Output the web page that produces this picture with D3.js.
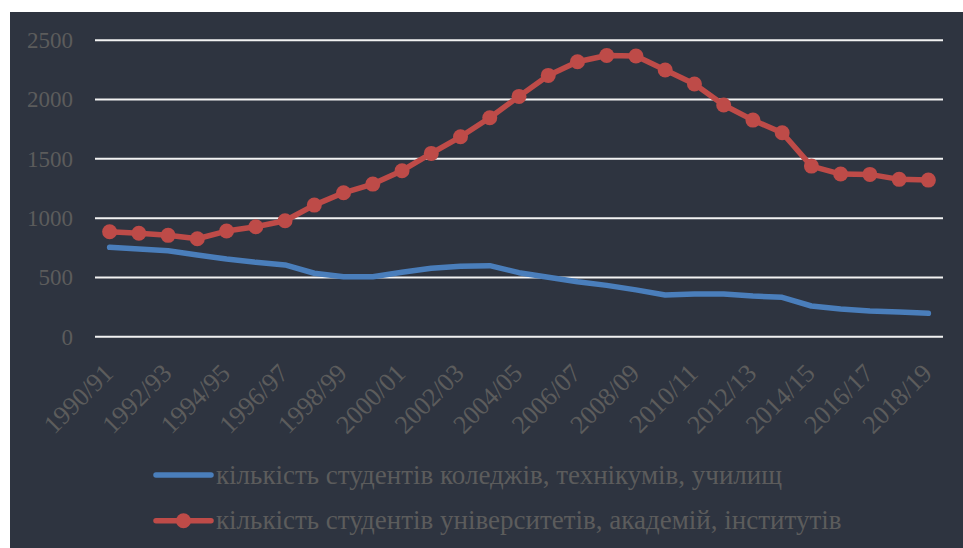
<!DOCTYPE html>
<html>
<head>
<meta charset="utf-8">
<script src="https://cdn.jsdelivr.net/npm/d3@7"></script>
<style>
  html, body { margin: 0; padding: 0; background: #fff; }
  svg { display: block; }
</style>
</head>
<body>
<svg id="chart" width="963" height="548"></svg>
<script>
const years = [
  '1990/91', '1991/92', '1992/93', '1993/94', '1994/95', '1995/96', '1996/97',
  '1997/98', '1998/99', '1999/00', '2000/01', '2001/02', '2002/03', '2003/04',
  '2004/05', '2005/06', '2006/07', '2007/08', '2008/09', '2009/10', '2010/11',
  '2011/12', '2012/13', '2013/14', '2014/15', '2015/16', '2016/17', '2017/18',
  '2018/19'
];
// коледжі, технікуми, училища
const colleges = [
  754, 740, 725, 689, 655, 627, 605, 535, 506, 506, 543, 577, 594, 599,
  540, 501, 464, 433, 395, 352, 360, 360, 343, 332, 259, 234, 217, 208, 197
];
// університети, академії, інститути
const universities = [
  885, 872, 855, 826, 891, 927, 978, 1110, 1214, 1287, 1400, 1546, 1686, 1847,
  2027, 2204, 2319, 2372, 2367, 2249, 2131, 1954, 1827, 1720, 1439, 1372, 1369,
  1327, 1321
];
const yTicks = [0, 500, 1000, 1500, 2000, 2500];
const seriesNames = [
  'кількість студентів коледжів, технікумів, училищ',
  'кількість студентів університетів, академій, інститутів'
];

const bg = '#2e3440';
const textColor = '#5c5c5c';
const blue = '#4a7ebb';
const red = '#be4b48';
const font = '"Liberation Serif", "Times New Roman", serif';

const svg = d3.select('#chart');

svg.append('rect')
  .attr('x', 10)
  .attr('y', 12)
  .attr('width', 953)
  .attr('height', 536)
  .attr('fill', bg);

const x = d3.scaleBand()
  .domain(years)
  .range([95, 943]);

const y = d3.scaleLinear()
  .domain([0, 2500])
  .range([336.7, 40.3]);

// gridlines
svg.append('g')
  .selectAll('line')
  .data(yTicks)
  .join('line')
  .attr('x1', 95)
  .attr('x2', 943)
  .attr('y1', (d) => y(d))
  .attr('y2', (d) => y(d))
  .attr('stroke', '#f2f2f2')
  .attr('stroke-width', 2);

// y axis labels
const yAxis = svg.append('g')
  .attr('transform', 'translate(95,0)')
  .call(d3.axisLeft(y)
    .tickValues(yTicks)
    .tickFormat(d3.format('d'))
    .tickSize(0)
    .tickPadding(22));
yAxis.select('.domain').remove();
yAxis.selectAll('text')
  .attr('fill', textColor)
  .attr('font-family', font)
  .attr('font-size', 23);

// x axis labels (every other year)
const xAxis = svg.append('g')
  .attr('transform', `translate(0,${y(0)})`)
  .call(d3.axisBottom(x)
    .tickValues(years.filter((d, i) => i % 2 === 0))
    .tickSize(0));
xAxis.select('.domain').remove();
xAxis.selectAll('text')
  .attr('fill', textColor)
  .attr('font-family', font)
  .attr('font-size', 26)
  .attr('text-anchor', 'end')
  .attr('y', 0)
  .attr('dy', 0)
  .attr('transform', 'translate(5,38) rotate(-45)');

const cx = (d, i) => x(years[i]) + x.bandwidth() / 2;

const line = d3.line()
  .x(cx)
  .y((d) => y(d));

svg.append('path')
  .datum(colleges)
  .attr('d', line)
  .attr('fill', 'none')
  .attr('stroke', blue)
  .attr('stroke-width', 5.5)
  .attr('stroke-linecap', 'round')
  .attr('stroke-linejoin', 'round');

svg.append('path')
  .datum(universities)
  .attr('d', line)
  .attr('fill', 'none')
  .attr('stroke', red)
  .attr('stroke-width', 5.5)
  .attr('stroke-linejoin', 'round');

svg.append('g')
  .selectAll('circle')
  .data(universities)
  .join('circle')
  .attr('cx', cx)
  .attr('cy', (d) => y(d))
  .attr('r', 7.5)
  .attr('fill', red);

// legend
const legend = svg.append('g')
  .selectAll('g')
  .data(seriesNames)
  .join('g')
  .attr('transform', (d, i) => `translate(156,${475 + i * 45.7})`);

legend.append('line')
  .attr('x1', 0)
  .attr('x2', 55)
  .attr('stroke', (d, i) => i === 0 ? blue : red)
  .attr('stroke-width', 5.5)
  .attr('stroke-linecap', 'round');

legend.filter((d, i) => i === 1)
  .append('circle')
  .attr('cx', 27.5)
  .attr('r', 7.5)
  .attr('fill', red);

legend.append('text')
  .attr('x', 60)
  .attr('dy', '0.32em')
  .attr('fill', textColor)
  .attr('font-family', font)
  .attr('font-size', 27)
  .text((d) => d);
</script>
</body>
</html>
